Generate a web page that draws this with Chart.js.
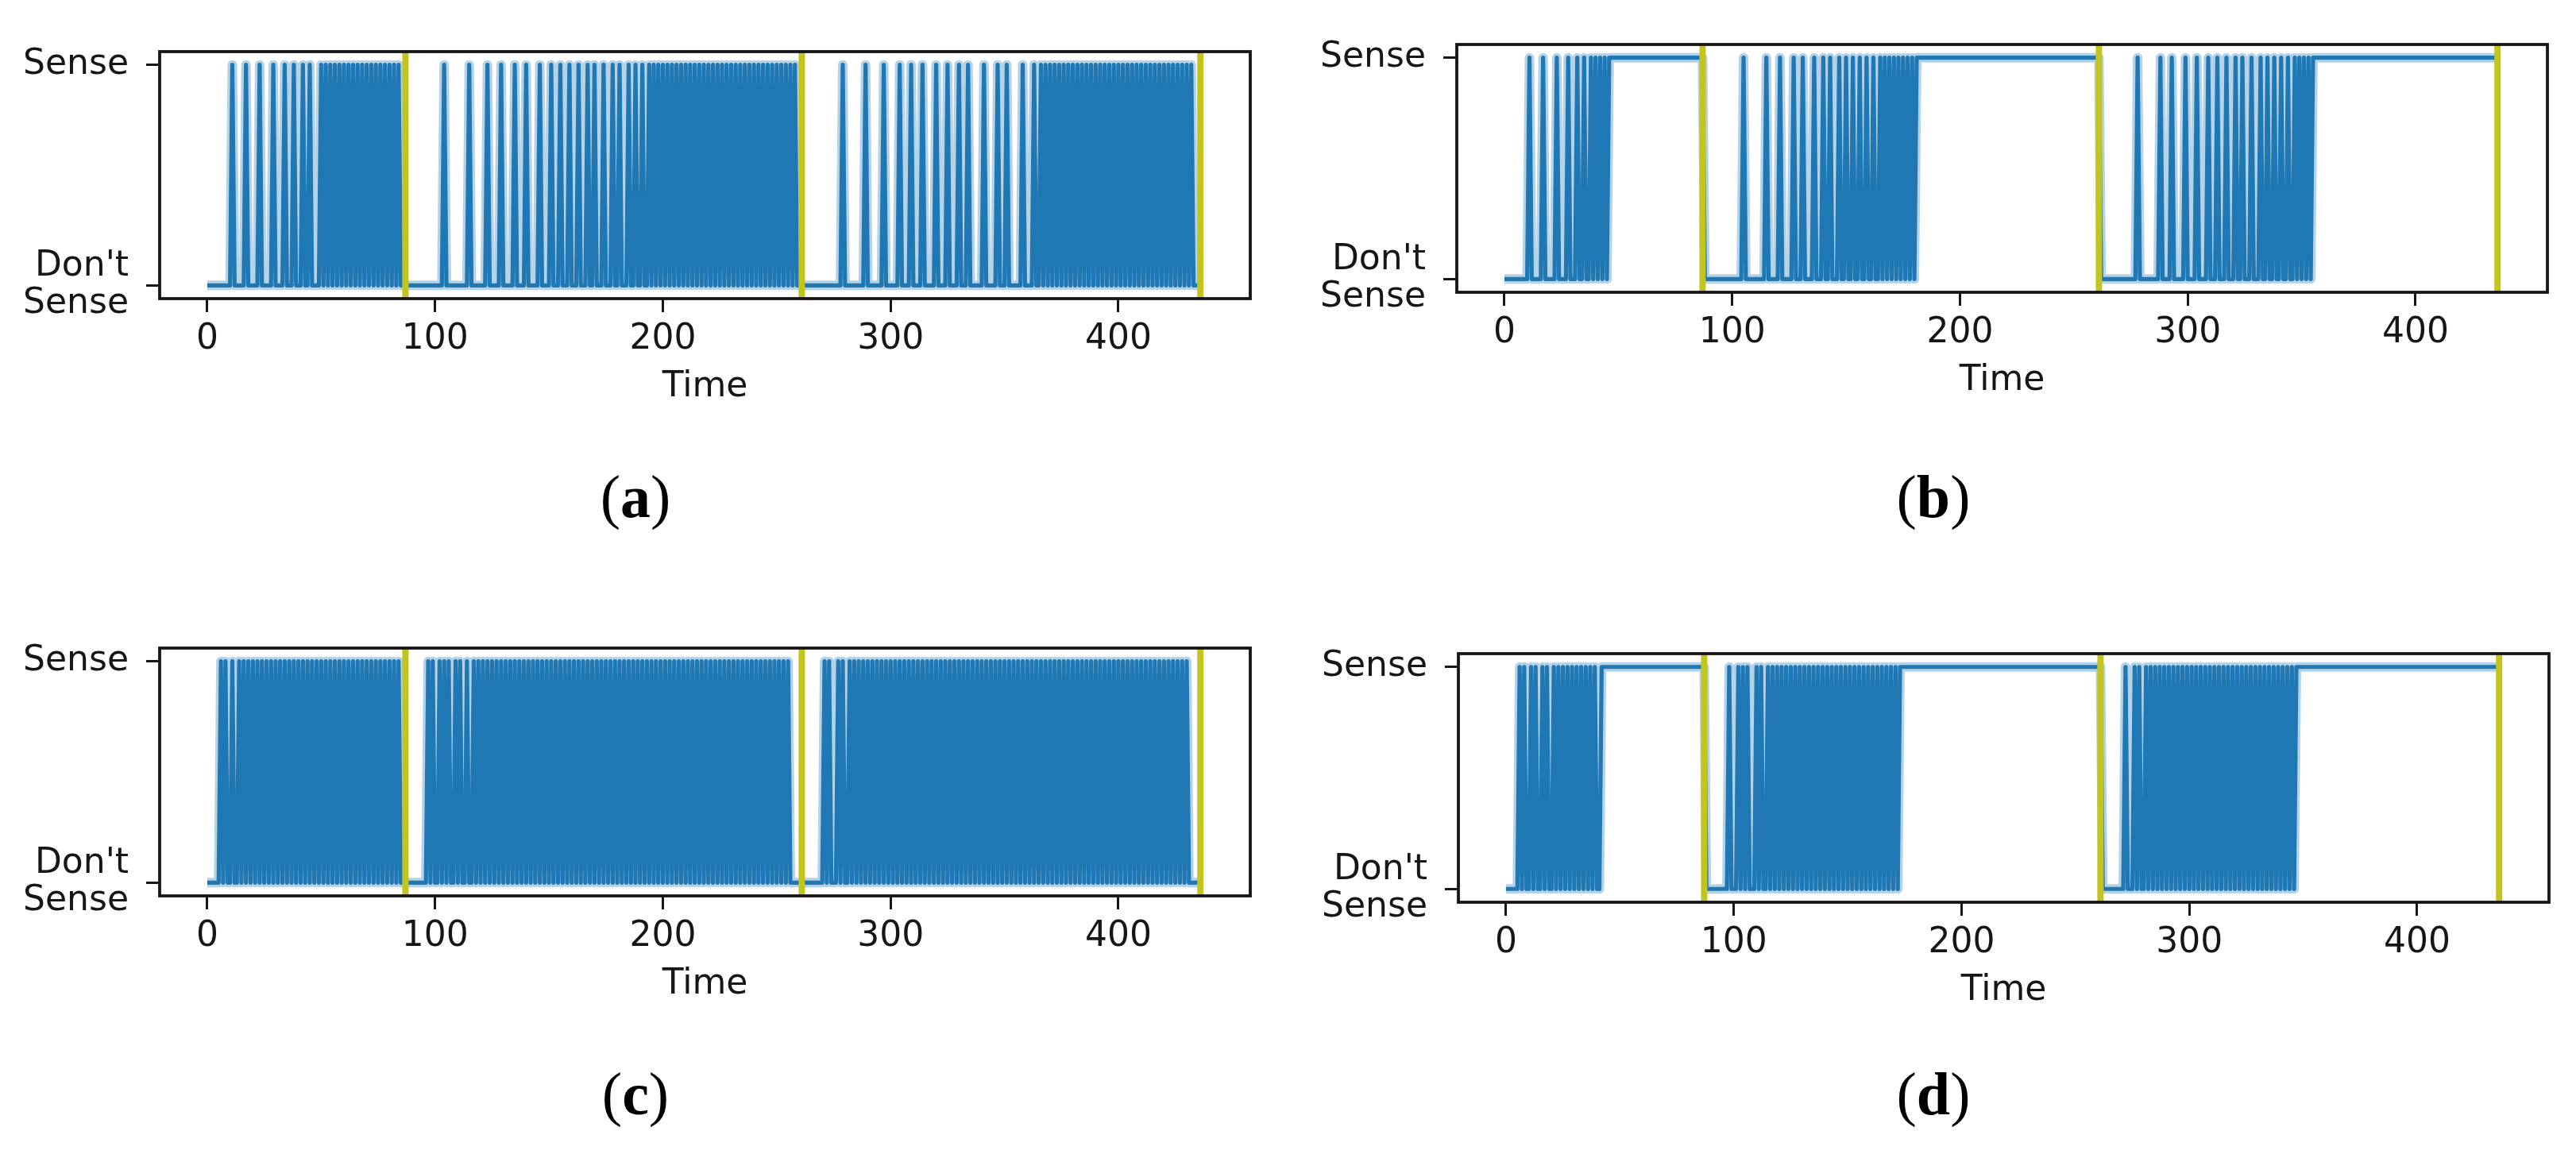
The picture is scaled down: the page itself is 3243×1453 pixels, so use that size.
<!DOCTYPE html>
<html>
<head>
<meta charset="utf-8">
<script src="https://cdn.jsdelivr.net/npm/chart.js@4/dist/chart.umd.min.js"></script>
<style>
  body { margin: 0; background: #fff; width: 3243px; height: 1453px; position: relative; overflow: hidden; }
  canvas { position: absolute; }
  .cap { position: absolute; font-family: "Liberation Serif", "DejaVu Serif", serif; font-size: 76px; line-height: 1;
         transform: translate(-50%, -50%); color: #000; white-space: nowrap; }
</style>
</head>
<body>
<canvas id="panelA" width="1640" height="560" style="left:0px;top:0px"></canvas>
<canvas id="panelB" width="1609" height="560" style="left:1634px;top:0px"></canvas>
<canvas id="panelC" width="1640" height="560" style="left:0px;top:740px"></canvas>
<canvas id="panelD" width="1609" height="560" style="left:1634px;top:740px"></canvas>
<div class="cap" style="left:800px;top:625px">(<b>a</b>)</div>
<div class="cap" style="left:2434px;top:625px">(<b>b</b>)</div>
<div class="cap" style="left:800px;top:1377px">(<b>c</b>)</div>
<div class="cap" style="left:2434px;top:1377px">(<b>d</b>)</div>
<script>
// axes
const timeTicks = [0, 100, 200, 300, 400];
const xRange = [-20.9, 457.9];
const yRange = [-0.06, 1.06];
const yTickValues = [0, 1];
const yTickLabels = [["Don't", "Sense"], "Sense"];

// episodes: first and last time step of each one (yellow line at the end)
const episodeStarts = [0, 88, 262];
const episodeEnds = [87, 261, 436];

// decision per time step, 1 = Sense, 0 = Don't Sense (one string per episode)
const senseA = [
  `0000000000 0100000100 0001000001 0000100010 0010010000 1010101010 1010101010 1010101010 10101000`,
  `0000000000 0000001000 0000000100 0000010000 0100000100 0010000010 0001000100 0100010001 0010001000
   1001000100 1001001010 1010101010 1010101010 1010101010 1010101010 1010101010 1010101010 1000`,
  `0000000000 0000000100 0000000100 0000010000 0010000100 0010000010 0001000010 0010000001 0000010001
   0000001000 0100101010 1010101010 1010101010 1010101010 1010101010 1010101010 1010101010 10000`,
];
const senseB = [
  `0000000000 0100000100 0001000010 0010010010 1010101111 1111111111 1111111111 1111111111 11111111`,
  `0000000000 0000000100 0000000100 0001000001 0001000010 0010010001 0010010010 0100100101 0101010101
   0101111111 1111111111 1111111111 1111111111 1111111111 1111111111 1111111111 1111111111 1111`,
  `0000000000 0000001000 0000001000 0100000100 0010000100 0100010001 0010001000 1001001001 0010010101
   0101111111 1111111111 1111111111 1111111111 1111111111 1111111111 1111111111 1111111111 11111`,
];
const senseC = [
  `0000001010 0100101010 1010101010 1010101010 1010101010 1010101010 1010101010 1010101010 10101000`,
  `0000000001 0100101010 0101001001
   0101010101 0101010101 0101010101 0101010101 0101010101 0101010101 0101010101
   0101010101 0101010101 0101010101 0101010101 0101010101 0101010101
   0101010100 0000`,
  `0000000001 0100010100
   1010101010 1010101010 1010101010 1010101010 1010101010
   1010101010 1010101010 1010101010 1010101010 1010101010
   1010101010 1010101010 1010101010 1010101010 1010101010
   00000`,
];
const senseD = [
  `0000001010 0101001010 0101010101 0101010101 0011111111 1111111111 1111111111 1111111111 11111111`,
  `0000000000 1000101010 0010100101
   0101010101 0101010101 0101010101 0101010101 0101010101
   0101011111
   1111111111 1111111111 1111111111 1111111111 1111111111 1111111111 1111111111 1111111111
   1111`,
  `0000000000 1000101001
   0101010101 0101010101 0101010101 0101010101 0101010101 0101010101
   0101011111
   1111111111 1111111111 1111111111 1111111111 1111111111 1111111111 1111111111 1111111111
   11111`,
];

const ink = "#161616";
const blue = "#1f77b4";
const halo = "rgba(31, 119, 180, 0.33)";
const yellow = "#c4c41e";

Chart.defaults.font.family = "'DejaVu Sans', sans-serif";

// plot box drawn on top of the lines
const framePlugin = {
  id: "frame",
  afterDatasetsDraw(chart) {
    const { ctx, chartArea: a } = chart;
    ctx.save();
    ctx.strokeStyle = ink;
    ctx.lineWidth = 3.8;
    ctx.strokeRect(a.left, a.top, a.right - a.left, a.bottom - a.top);
    ctx.restore();
  },
};

function buildPoints(episodes) {
  const points = [];
  episodes.forEach((text, k) => {
    const bits = text.replace(/\s/g, "").slice(0, episodeEnds[k] - episodeStarts[k] + 1);
    for (let i = 0; i < bits.length; i++) {
      points.push({ x: episodeStarts[k] + i, y: Number(bits[i]) });
    }
  });
  return points;
}

function createPanel(canvasId, episodes, box) {
  const canvas = document.getElementById(canvasId);
  const W = canvas.width;
  const H = canvas.height;
  const points = buildPoints(episodes);

  const markers = episodeEnds.map((t) => ({
    data: [{ x: t, y: yRange[0] }, { x: t, y: yRange[1] }],
    borderColor: yellow,
    borderWidth: 8,
    pointRadius: 0,
  }));

  new Chart(canvas, {
    type: "line",
    data: {
      datasets: [
        ...markers,
        { data: points, borderColor: blue, borderWidth: 5.2, pointRadius: 0, borderJoinStyle: "round" },
        { data: points, borderColor: halo, borderWidth: 12, pointRadius: 0, borderJoinStyle: "round" },
      ],
    },
    options: {
      responsive: false,
      animation: false,
      events: [],
      layout: { padding: { left: 0, top: box.top, right: W - box.right, bottom: 0 } },
      plugins: { legend: { display: false }, tooltip: { enabled: false } },
      scales: {
        x: {
          type: "linear",
          min: xRange[0],
          max: xRange[1],
          afterBuildTicks: (s) => { s.ticks = timeTicks.map((v) => ({ value: v })); },
          afterFit: (s) => { s.height = H - box.bottom; },
          grid: { drawOnChartArea: false, tickLength: 17, tickWidth: 3, tickColor: ink },
          border: { display: false },
          ticks: { autoSkip: false, maxRotation: 0, padding: 8, color: ink, font: { size: 44 }, callback: (v) => String(v) },
          title: {
            display: true, text: "Time", color: ink, font: { size: 44 },
            padding: { top: 0, bottom: H - box.bottom - 138 },
          },
        },
        y: {
          type: "linear",
          min: yRange[0],
          max: yRange[1],
          afterBuildTicks: (s) => { s.ticks = yTickValues.map((v) => ({ value: v })); },
          afterFit: (s) => { s.width = box.left; },
          grid: { drawOnChartArea: false, tickLength: 17, tickWidth: 3, tickColor: ink },
          border: { display: false },
          ticks: {
            autoSkip: false, padding: 22, color: ink,
            font: { size: 44, lineHeight: 1.07 },
            callback: (v) => yTickLabels[yTickValues.indexOf(v)],
          },
        },
      },
    },
    plugins: [framePlugin],
  });
}

createPanel("panelA", senseA, { left: 201, top: 65, right: 1574, bottom: 376 });
createPanel("panelB", senseB, { left: 200, top: 56, right: 1573, bottom: 368 });
createPanel("panelC", senseC, { left: 201, top: 76, right: 1574, bottom: 388 });
createPanel("panelD", senseD, { left: 202, top: 83, right: 1575, bottom: 396 });
</script>
</body>
</html>
